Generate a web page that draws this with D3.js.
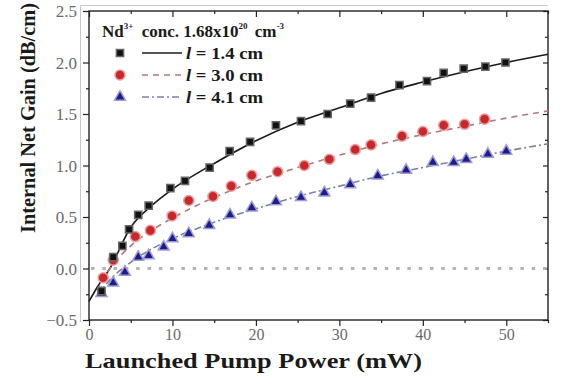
<!DOCTYPE html>
<html>
<head>
<meta charset="utf-8">
<script src="https://cdn.jsdelivr.net/npm/d3@7"></script>
<style>
  body { margin: 0; background: #fff; }
  svg { display: block; }
  .tick-label { font-family: 'Liberation Serif', 'DejaVu Serif', serif; font-size: 16px; fill: #6a6a6a; }
  .bold-serif { font-family: 'Liberation Serif', 'DejaVu Serif', serif; font-weight: bold; fill: #1a1a1a; }
</style>
</head>
<body>
<svg id="chart" width="568" height="376"></svg>
<script>
//////////////////////////////////////////////////////////////////////////////
// Data
//////////////////////////////////////////////////////////////////////////////

// l = 1.4 cm, black squares
var sq_x = [1.5, 2.9, 4.0, 4.8, 5.9, 7.15, 9.75, 11.5, 14.45, 16.85, 19.3, 22.4, 25.4, 28.6, 31.3, 33.8, 37.2, 40.5, 42.5, 44.9, 47.5, 49.9]
var sq_y = [-0.22, 0.11, 0.22, 0.38, 0.52, 0.61, 0.78, 0.85, 0.98, 1.14, 1.23, 1.39, 1.43, 1.50, 1.60, 1.66, 1.78, 1.82, 1.90, 1.94, 1.96, 2.00]

// l = 3.0 cm, red circles
var ci_x = [1.7, 2.9, 5.55, 7.35, 9.95, 11.95, 14.85, 17.05, 19.5, 22.6, 25.8, 28.8, 31.9, 33.8, 37.5, 40.0, 42.5, 45.0, 47.4]
var ci_y = [-0.09, 0.08, 0.31, 0.37, 0.51, 0.66, 0.70, 0.80, 0.905, 0.94, 1.00, 1.06, 1.155, 1.20, 1.285, 1.33, 1.39, 1.40, 1.45]

// l = 4.1 cm, blue triangles
var tr_x = [1.5, 2.9, 4.3, 5.9, 7.15, 8.95, 10.0, 11.95, 14.4, 16.9, 19.5, 22.4, 25.4, 28.2, 31.3, 34.6, 38.0, 41.2, 43.7, 45.2, 47.8, 50.0]
var tr_y = [-0.24, -0.14, -0.035, 0.11, 0.125, 0.21, 0.29, 0.34, 0.42, 0.52, 0.59, 0.65, 0.69, 0.735, 0.815, 0.90, 0.955, 1.03, 1.03, 1.06, 1.11, 1.14]

// fitted curves, points
var fit1_x = [0, 1, 2.5, 5, 7.5, 10, 15, 20, 25, 30, 35, 40, 45, 50, 55]
var fit1_y = [-0.32, -0.18, 0.0, 0.40, 0.61, 0.77, 1.02, 1.24, 1.42, 1.56, 1.70, 1.81, 1.91, 2.00, 2.08]
var fit2_x = [1, 1.5, 3, 5, 7.5, 10, 15, 20, 25, 30, 35, 40, 45, 50, 55]
var fit2_y = [-0.22, -0.13, 0.05, 0.22, 0.37, 0.49, 0.69, 0.85, 0.98, 1.10, 1.21, 1.30, 1.38, 1.46, 1.53]
var fit3_x = [1, 1.5, 3, 5, 7.5, 10, 15, 20, 25, 30, 35, 40, 45, 50, 55]
var fit3_y = [-0.27, -0.21, -0.07, 0.06, 0.19, 0.29, 0.45, 0.58, 0.70, 0.80, 0.90, 0.98, 1.06, 1.14, 1.21]

var x_ticks = [0, 10, 20, 30, 40, 50]
var x_minor = [5, 15, 25, 35, 45, 55]
var y_ticks = [-0.5, 0.0, 0.5, 1.0, 1.5, 2.0, 2.5]
var y_minor = [-0.25, 0.25, 0.75, 1.25, 1.75, 2.25]

var legend_labels = ['1.4 cm', '3.0 cm', '4.1 cm']

//////////////////////////////////////////////////////////////////////////////
// Layout
//////////////////////////////////////////////////////////////////////////////

var svg = d3.select('#chart')
var left = 89, right = 548, top_y = 11, bottom = 320

var x = d3.scaleLinear().domain([0, 55]).range([left, right])
var y = d3.scaleLinear().domain([-0.5, 2.5]).range([bottom, top_y])

//////////////////////////////////////////////////////////////////////////////
// Frame and axes
//////////////////////////////////////////////////////////////////////////////

// faint scan border
svg.append('path')
  .attr('d', 'M80.5,322 V5.5 H548')
  .attr('fill', 'none')
  .attr('stroke', '#c8c8c8')
  .attr('stroke-width', 1)

var x_axis = svg.append('g')
  .attr('transform', 'translate(0,' + bottom + ')')
  .call(d3.axisBottom(x).tickValues(x_ticks).tickSize(6).tickFormat(d3.format('d')))
x_axis.selectAll('text').attr('class', 'tick-label').attr('dy', '0.9em').attr('y', 6)

svg.append('g')
  .attr('transform', 'translate(0,' + bottom + ')')
  .call(d3.axisBottom(x).tickValues(x_minor).tickSize(3).tickFormat(''))

var y_axis = svg.append('g')
  .attr('transform', 'translate(' + left + ',0)')
  .call(d3.axisLeft(y).tickValues(y_ticks).tickSize(6).tickFormat(d3.format('.1f')))
y_axis.selectAll('text').attr('class', 'tick-label').attr('x', -12).attr('dy', '0.35em')
  .style('font-size', '17px')

svg.append('g')
  .attr('transform', 'translate(' + left + ',0)')
  .call(d3.axisLeft(y).tickValues(y_minor).tickSize(3).tickFormat(''))

// mirrored inward ticks on top and right
svg.append('g')
  .attr('transform', 'translate(0,' + top_y + ')')
  .call(d3.axisBottom(x).tickValues(x_ticks).tickSize(6).tickFormat(''))
svg.append('g')
  .attr('transform', 'translate(0,' + top_y + ')')
  .call(d3.axisBottom(x).tickValues(x_minor).tickSize(3).tickFormat(''))
svg.append('g')
  .attr('transform', 'translate(' + right + ',0)')
  .call(d3.axisLeft(y).tickValues(y_ticks).tickSize(5).tickFormat(''))
svg.append('g')
  .attr('transform', 'translate(' + right + ',0)')
  .call(d3.axisLeft(y).tickValues(y_minor).tickSize(3).tickFormat(''))

svg.selectAll('.domain').remove()
svg.selectAll('.tick line').attr('stroke', '#222').attr('stroke-width', 1.2)

svg.append('rect')
  .attr('x', left).attr('y', top_y)
  .attr('width', right - left).attr('height', bottom - top_y)
  .attr('fill', 'none')
  .attr('stroke', '#222')
  .attr('stroke-width', 1.4)

// zero line
svg.append('line')
  .attr('x1', left + 2).attr('x2', right)
  .attr('y1', y(0)).attr('y2', y(0))
  .attr('stroke', '#b4b4b4')
  .attr('stroke-width', 3.2)
  .attr('stroke-dasharray', '3.5,7.8')

//////////////////////////////////////////////////////////////////////////////
// Fit lines
//////////////////////////////////////////////////////////////////////////////

var line = d3.line()
  .x(function(d){ return x(d[0]) })
  .y(function(d){ return y(d[1]) })
  .curve(d3.curveMonotoneX)

var fits = [
  { xs: fit1_x, ys: fit1_y, color: '#1a1a1a', dash: null, width: 1.6 },
  { xs: fit2_x, ys: fit2_y, color: '#b07a7a', dash: '6,5', width: 1.6 },
  { xs: fit3_x, ys: fit3_y, color: '#7882a6', dash: '7,3,2,3', width: 1.6 }
]

fits.forEach(function(f){
  svg.append('path')
    .datum(d3.zip(f.xs, f.ys))
    .attr('d', line)
    .attr('fill', 'none')
    .attr('stroke', f.color)
    .attr('stroke-width', f.width)
    .attr('stroke-dasharray', f.dash)
})

//////////////////////////////////////////////////////////////////////////////
// Markers
//////////////////////////////////////////////////////////////////////////////

var sym_square = d3.symbol().type(d3.symbolSquare).size(52)
var sym_circle = d3.symbol().type(d3.symbolCircle).size(80)
var sym_tri = d3.symbol().type(d3.symbolTriangle).size(52)

function draw_points(xs, ys, sym, fill, halo) {
  svg.append('g')
    .selectAll('path')
    .data(d3.zip(xs, ys))
    .join('path')
    .attr('transform', function(d){ return 'translate(' + x(d[0]) + ',' + y(d[1]) + ')' })
    .attr('d', sym)
    .attr('fill', fill)
    .attr('stroke', halo)
    .attr('stroke-width', 1.5)
}

draw_points(ci_x, ci_y, sym_circle, '#c8282c', '#eaa0a0')
draw_points(tr_x, tr_y, sym_tri, '#1c1c8e', '#9c9cd0')
draw_points(sq_x, sq_y, sym_square, '#111', '#666')

//////////////////////////////////////////////////////////////////////////////
// Legend
//////////////////////////////////////////////////////////////////////////////

var title = svg.append('text')
  .attr('class', 'bold-serif')
  .attr('x', 102).attr('y', 37)
  .style('font-size', '17px')
title.append('tspan').text('Nd')
title.append('tspan').text('3+').style('font-size', '9px').attr('dy', -8)
title.append('tspan').text(' conc. 1.68x10').attr('dy', 8).attr('dx', 4)
title.append('tspan').text('20').style('font-size', '9px').attr('dy', -8)
title.append('tspan').text(' cm').attr('dy', 8).attr('dx', 3)
title.append('tspan').text('-3').style('font-size', '9px').attr('dy', -8)

var leg_syms = [sym_square, sym_circle, sym_tri]
var leg_fill = ['#111', '#c8282c', '#1c1c8e']
var leg_halo = ['#666', '#eaa0a0', '#9c9cd0']

legend_labels.forEach(function(lbl, i){
  var cy = 53 + i * 22
  svg.append('path')
    .attr('transform', 'translate(120,' + cy + ')')
    .attr('d', leg_syms[i])
    .attr('fill', leg_fill[i])
    .attr('stroke', leg_halo[i])
    .attr('stroke-width', 1.5)
  svg.append('line')
    .attr('x1', 142).attr('x2', 182)
    .attr('y1', cy).attr('y2', cy)
    .attr('stroke', fits[i].color)
    .attr('stroke-width', 1.6)
    .attr('stroke-dasharray', fits[i].dash)
  var t = svg.append('text')
    .attr('class', 'bold-serif')
    .attr('x', 186).attr('y', cy + 6)
    .attr('textLength', 77)
    .attr('lengthAdjust', 'spacingAndGlyphs')
    .style('font-size', '17px')
  t.append('tspan').text('l').style('font-style', 'italic')
  t.append('tspan').text(' = ' + lbl)
})

//////////////////////////////////////////////////////////////////////////////
// Axis titles
//////////////////////////////////////////////////////////////////////////////

svg.append('text')
  .attr('class', 'bold-serif')
  .attr('x', 85).attr('y', 368)
  .attr('textLength', 337)
  .attr('lengthAdjust', 'spacingAndGlyphs')
  .style('font-size', '21px')
  .text('Launched Pump Power (mW)')

svg.append('text')
  .attr('class', 'bold-serif')
  .attr('transform', 'translate(35,118) rotate(-90)')
  .attr('text-anchor', 'middle')
  .attr('textLength', 230)
  .attr('lengthAdjust', 'spacingAndGlyphs')
  .style('font-size', '20px')
  .text('Internal Net Gain (dB/cm)')
</script>
</body>
</html>
